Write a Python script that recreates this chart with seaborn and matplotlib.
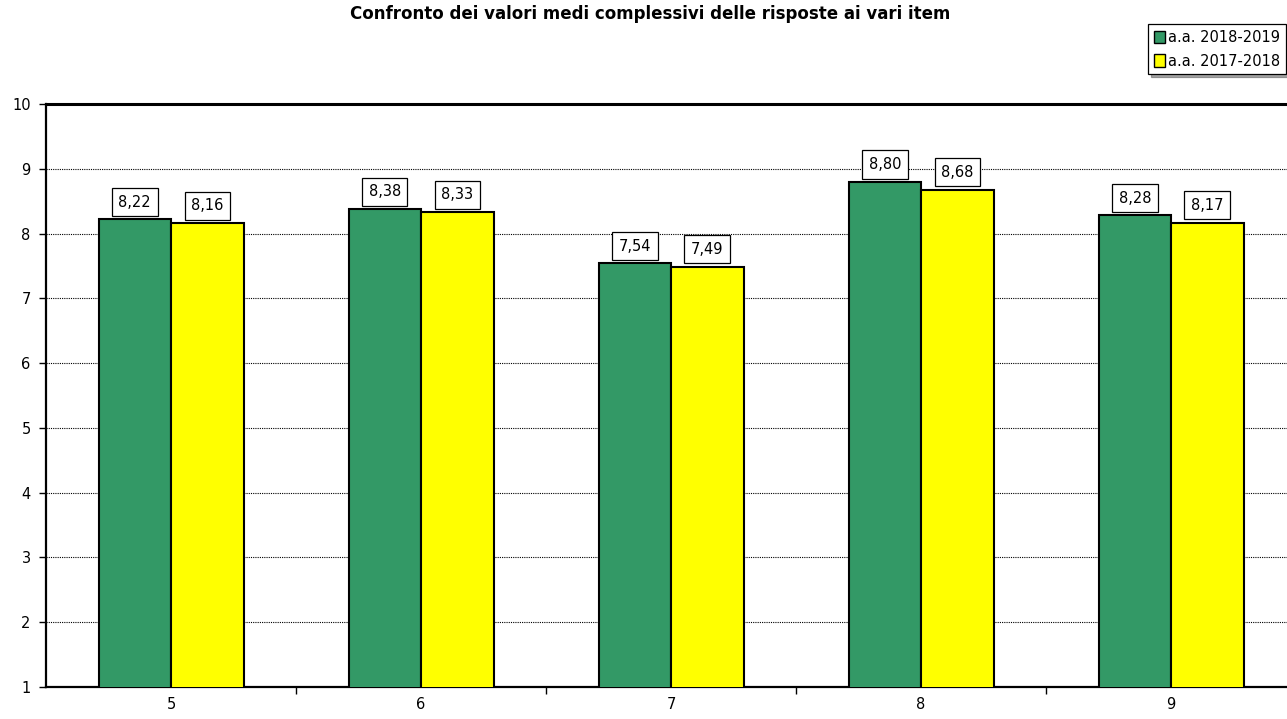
import matplotlib
matplotlib.use("Agg")
import matplotlib.pyplot as plt
import seaborn as sns
import pandas as pd

# Item numbers and mean scores per academic year
items = ["5", "6", "7", "8", "9"]
anno_2018_2019 = [8.22, 8.38, 7.54, 8.80, 8.28]
anno_2017_2018 = [8.16, 8.33, 7.49, 8.68, 8.17]
series_names = ["a.a. 2018-2019", "a.a. 2017-2018"]
title = "Confronto dei valori medi complessivi delle risposte ai vari item"

df = pd.DataFrame({
    "item": items * 2,
    "valore": anno_2018_2019 + anno_2017_2018,
    "anno": [series_names[0]] * len(items) + [series_names[1]] * len(items),
})

sns.set_theme(style="white")
plt.rcParams["font.family"] = ["DejaVu Sans"]
plt.rcParams["text.color"] = "black"
plt.rcParams["xtick.color"] = "black"
plt.rcParams["ytick.color"] = "black"
plt.rcParams["axes.labelcolor"] = "black"

fig = plt.figure(figsize=(12.87, 7.19), dpi=100)
ax = fig.add_axes([46 / 1287, 1 - 687 / 719, 1250 / 1287, (687 - 104) / 719])

palette = {series_names[0]: "#339966", series_names[1]: "#FFFF00"}
sns.barplot(data=df, x="item", y="valore", hue="anno", hue_order=series_names,
            palette=palette, width=0.58, edgecolor="black", linewidth=1.5,
            saturation=1, ax=ax, legend=True, zorder=3)

ax.set_ylim(1, 10)
ax.set_xlim(-0.5, 4.5)
ax.set_yticks(range(1, 11))
ax.set_xlabel("")
ax.set_ylabel("")
ax.yaxis.grid(True, color="black", linestyle=(0, (1, 1)), linewidth=0.8)
ax.set_axisbelow(True)

for side in ["left", "bottom", "top", "right"]:
    ax.spines[side].set_visible(True)
    ax.spines[side].set_color("black")
    ax.spines[side].set_linewidth(1.6)
ax.spines["top"].set_linewidth(2.2)

ax.tick_params(axis="y", which="major", left=True, length=5, width=1, color="black",
               labelsize=10.5, pad=6)
ax.tick_params(axis="x", which="major", bottom=True, length=0, labelsize=10.5, pad=7)
ax.set_xticks([i + 0.5 for i in range(len(items) - 1)], minor=True)
ax.tick_params(axis="x", which="minor", bottom=True, length=5, width=1, color="black")

for cont in ax.containers:
    labels = [f"{b.get_height():.2f}".replace(".", ",") for b in cont]
    ax.bar_label(cont, labels=labels, padding=7, fontsize=10.5,
                 bbox=dict(boxstyle="square,pad=0.45", facecolor="white",
                           edgecolor="black", linewidth=0.9))

ax.get_legend().remove()
handles = [plt.Rectangle((0, 0), 1, 1, facecolor=palette[n], edgecolor="black", linewidth=1)
           for n in series_names]
leg = fig.legend(handles, series_names, loc="upper right",
                 bbox_to_anchor=(1286 / 1287, 1 - 24 / 719), fontsize=10.5,
                 frameon=True, fancybox=False, shadow=True, handlelength=0.75,
                 handleheight=0.9, handletextpad=0.2, borderpad=0.4,
                 labelspacing=0.6, borderaxespad=0)
leg.get_frame().set_edgecolor("black")
leg.get_frame().set_linewidth(0.9)

fig.text(650 / 1287, 1 - 14 / 719, title, ha="center", va="center",
         fontsize=12, fontweight="bold", color="black")

fig.savefig("out.png", dpi=100, facecolor="white")
